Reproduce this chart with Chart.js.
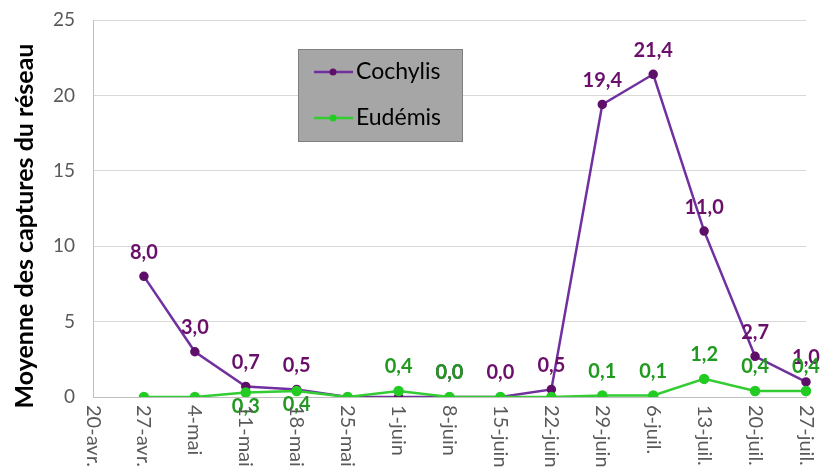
<!DOCTYPE html>
<html>
<head>
<meta charset="utf-8">
<script src="https://cdn.jsdelivr.net/npm/chart.js@4"></script>
<style>
  html, body { margin: 0; padding: 0; background: #fff; }
  #wrap { width: 821px; height: 474px; }
</style>
</head>
<body>
<div id="wrap"><canvas id="chart"></canvas></div>
<script>
const weeks = ['20-avr.', '27-avr.', '4-mai', '11-mai', '18-mai', '25-mai', '1-juin', '8-juin',
  '15-juin', '22-juin', '29-juin', '6-juil.', '13-juil.', '20-juil.', '27-juil.'];
const cochylis = [null, 8.0, 3.0, 0.7, 0.5, 0.0, 0.0, 0.0, 0.0, 0.5, 19.4, 21.4, 11.0, 2.7, 1.0];
const eudemis = [null, 0.0, 0.0, 0.3, 0.4, 0.0, 0.4, 0.0, 0.0, 0.0, 0.1, 0.1, 1.2, 0.4, 0.4];
const yTicks = [0, 5, 10, 15, 20, 25];
const yTitle = 'Moyenne des captures du réseau';

// where each series shows its value label ('a' above, 'b' below, null none)
const labelPlacement = [
  [null, 'a', 'a', 'a', 'a', null, null, 'a', 'a', 'a', 'a', 'a', 'a', 'a', 'a'],
  [null, null, null, 'b', 'b', null, 'a', 'a', null, null, 'a', 'a', 'a', 'a', 'a']
];
const labelColors = ['#6a0f6a', '#1f9a1f'];

const fmt = v => v.toFixed(1).replace('.', ',');

const valueLabels = {
  id: 'valueLabels',
  afterDatasetsDraw(chart) {
    const ctx = chart.ctx;
    ctx.save();
    ctx.font = 'bold 20px Lato';
    ctx.textAlign = 'center';
    ctx.textBaseline = 'middle';
    chart.data.datasets.forEach((ds, di) => {
      const meta = chart.getDatasetMeta(di);
      meta.data.forEach((pt, i) => {
        const pos = labelPlacement[di][i];
        if (!pos || ds.data[i] == null) return;
        ctx.fillStyle = labelColors[di];
        const y = pos === 'a' ? pt.y - 24 : pt.y + 14;
        ctx.fillText(fmt(ds.data[i]), pt.x, y);
      });
    });
    ctx.restore();
  }
};

const axisText = {
  id: 'axisText',
  afterDraw(chart) {
    const ctx = chart.ctx;
    const xs = chart.scales.x;
    const top = chart.chartArea.bottom + 8;
    ctx.save();
    ctx.font = '20px Lato';
    ctx.fillStyle = '#595959';
    ctx.textAlign = 'left';
    ctx.textBaseline = 'middle';
    weeks.forEach((w, i) => {
      ctx.save();
      ctx.translate(xs.getPixelForValue(i), top);
      ctx.rotate(Math.PI / 2);
      ctx.fillText(w, 0, 0);
      ctx.restore();
    });
    // y axis title, centred on the whole picture height like the original
    ctx.save();
    ctx.translate(25, 226);
    ctx.rotate(-Math.PI / 2);
    ctx.font = 'bold 25px Lato';
    ctx.fillStyle = '#000';
    ctx.textAlign = 'center';
    ctx.fillText(yTitle, 0, 0);
    ctx.restore();
    ctx.restore();
  }
};

const boxLegend = {
  id: 'boxLegend',
  afterDraw(chart) {
    const ctx = chart.ctx;
    ctx.save();
    ctx.fillStyle = '#a6a6a6';
    ctx.fillRect(298, 49, 165, 93);
    ctx.strokeStyle = '#7f7f7f';
    ctx.lineWidth = 1;
    ctx.strokeRect(298.5, 49.5, 164, 92);
    const rows = [72, 118];
    chart.data.datasets.forEach((ds, i) => {
      const y = rows[i];
      ctx.strokeStyle = ds.borderColor;
      ctx.lineWidth = 2.5;
      ctx.beginPath();
      ctx.moveTo(314, y);
      ctx.lineTo(353, y);
      ctx.stroke();
      ctx.fillStyle = ds.pointBackgroundColor;
      ctx.beginPath();
      ctx.arc(333, y, 3.5, 0, Math.PI * 2);
      ctx.fill();
      ctx.fillStyle = '#000';
      ctx.font = '23px Lato';
      ctx.textAlign = 'left';
      ctx.textBaseline = 'middle';
      ctx.fillText(ds.label, 356, y);
    });
    ctx.restore();
  }
};

new Chart(document.getElementById('chart'), {
  type: 'line',
  data: {
    labels: weeks,
    datasets: [{
      label: 'Cochylis',
      data: cochylis,
      order: 1,
      borderColor: '#7030a0',
      borderWidth: 2.5,
      pointBackgroundColor: '#5e0f68',
      pointBorderColor: '#5e0f68',
      pointRadius: 3.5,
      tension: 0
    }, {
      label: 'Eudémis',
      data: eudemis,
      order: 0,
      borderColor: '#33cc33',
      borderWidth: 2.5,
      pointBackgroundColor: '#22cc22',
      pointBorderColor: '#22cc22',
      pointRadius: 4,
      tension: 0
    }]
  },
  options: {
    responsive: true,
    maintainAspectRatio: false,
    animation: false,
    layout: { padding: { top: 20, right: 15, left: 0, bottom: 0 } },
    plugins: {
      legend: { display: false },
      tooltip: { enabled: false }
    },
    scales: {
      x: {
        offset: false,
        grid: { display: false },
        border: { color: '#bfbfbf' },
        ticks: { display: false },
        afterFit: s => { s.height = 77; s.paddingLeft = 0; s.paddingRight = 0; }
      },
      y: {
        min: 0,
        max: 25,
        afterBuildTicks: s => { s.ticks = yTicks.map(v => ({ value: v })); },
        grid: { color: '#d9d9d9', drawTicks: false },
        border: { color: '#bfbfbf' },
        ticks: { font: { family: 'Lato', size: 19 }, color: '#595959', padding: 18 },
        afterFit: s => { s.width = 93; s.paddingTop = 0; s.paddingBottom = 0; }
      }
    }
  },
  plugins: [valueLabels, axisText, boxLegend]
});
</script>
</body>
</html>
